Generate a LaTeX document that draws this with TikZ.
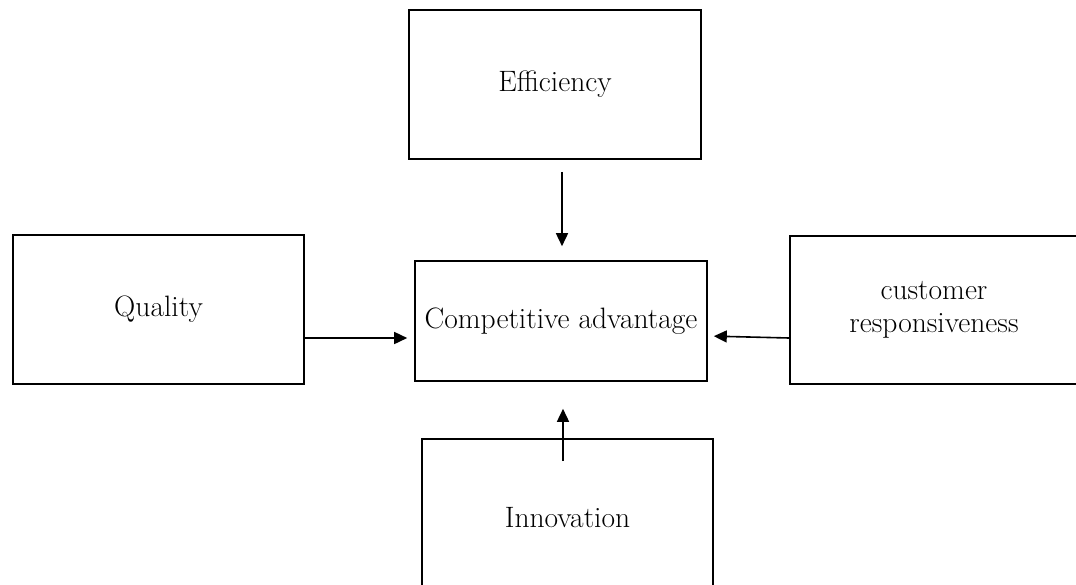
\documentclass[tikz,border=0pt]{standalone}
\usetikzlibrary{arrows.meta}
\begin{document}
\begin{tikzpicture}[x=1pt,y=-1pt,
  box/.style={draw, line width=1.6pt, rectangle, inner sep=0pt, align=center,
    font=\fontsize{29.5}{33}\selectfont},
  arr/.style={line width=1.6pt, -{Triangle[width=12pt,length=13pt]}}]
\useasboundingbox (0,0) rectangle (1076,584);
\clip (0,0) rectangle (1076,584);
\node[box, minimum width=292pt, minimum height=149pt] (eff) at (555,84.5) {Efficiency};
\node[box, minimum width=292pt, minimum height=120pt] (comp) at (561,321) {Competitive advantage};
\node[box, minimum width=291pt, minimum height=149pt] (qual) at (158.5,309.5) {Quality};
\node[box, minimum width=288pt, minimum height=148pt] (cust) at (934,310) {customer\\responsiveness};
\node[box, minimum width=291pt, minimum height=158pt] (inn) at (567.5,518) {Innovation};
\draw[arr, shorten <=12pt, shorten >=14pt] ([xshift=7pt]eff.south) -- ([xshift=7pt]eff.south |- comp.north);
\draw[arr, shorten >=7pt] (qual.east |- 0,338) -- (comp.west |- 0,338);
\draw[arr, shorten >=6pt] (cust.west |- 0,338) -- (comp.east |- 0,336);
\draw[arr, shorten <=-23pt, shorten >=27pt] ([xshift=-4.5pt]inn.north) -- ([xshift=-4.5pt]inn.north |- comp.south);
\end{tikzpicture}
\end{document}
